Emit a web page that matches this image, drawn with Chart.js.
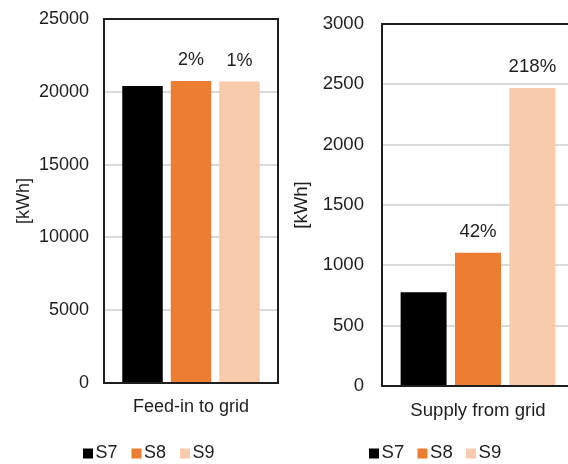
<!DOCTYPE html>
<html>
<head>
<meta charset="utf-8">
<title>Grid energy</title>
<script src="https://cdn.jsdelivr.net/npm/chart.js@4/dist/chart.umd.min.js"></script>
<style>
  html, body { margin: 0; padding: 0; background: #fff; overflow: hidden; }
  #wrap { position: relative; width: 568px; height: 464px; overflow: hidden; }
  canvas { position: absolute; top: 0; }
  #chartFeed { left: 0; }
  #chartSupply { left: 290px; }
</style>
</head>
<body>
<div id="wrap">
  <canvas id="chartFeed" width="290" height="464"></canvas>
  <canvas id="chartSupply" width="292" height="464"></canvas>
</div>
<script>
const series = ["S7", "S8", "S9"];
const colors = ["#000000", "#ED7D31", "#F8CBAD"];

const feedCategory = "Feed-in to grid";
const feedValues = [20400, 20750, 20700];
const feedTicks = [0, 5000, 10000, 15000, 20000, 25000];

const supplyCategory = "Supply from grid";
const supplyValues = [777, 1105, 2470];
const supplyTicks = [0, 500, 1000, 1500, 2000, 2500, 3000];

const yTitle = "[kWh]";
const textColor = "#1e1e1e";
const fontFamily = "'Liberation Sans', Arial, sans-serif";

// box round the plot area, change vs. S7 above the other bars, small legend underneath
const frameAndLabels = {
  id: 'frameAndLabels',
  afterDatasetsDraw(chart, args, opts) {
    const { ctx, chartArea: a } = chart;
    ctx.save();
    ctx.strokeStyle = '#1e1e1e';
    ctx.lineWidth = 2;
    ctx.strokeRect(a.left, a.top, a.right - a.left, a.bottom - a.top);

    const base = chart.data.datasets[0].data[0];
    ctx.fillStyle = textColor;
    ctx.font = `${opts.size}px ${fontFamily}`;
    ctx.textAlign = 'center';
    ctx.textBaseline = 'middle';
    chart.data.datasets.forEach((ds, i) => {
      if (i === 0) return;
      const bar = chart.getDatasetMeta(i).data[0];
      const pct = Math.round((ds.data[0] / base - 1) * 100) + '%';
      ctx.fillText(pct, bar.x, bar.y - 21);
    });
    ctx.restore();
  },
  afterDraw(chart, args, opts) {
    const { ctx } = chart;
    ctx.save();
    ctx.font = `${opts.size}px ${fontFamily}`;
    ctx.textAlign = 'left';
    ctx.textBaseline = 'middle';
    chart.data.datasets.forEach((ds, i) => {
      const bx = opts.x + i * opts.step;
      ctx.fillStyle = ds.backgroundColor;
      ctx.fillRect(bx, opts.y - 4.5, 10, 10);
      ctx.fillStyle = textColor;
      ctx.fillText(ds.label, bx + 12.5, opts.y);
    });
    ctx.restore();
  }
};

function makeChart(id, category, values, ticks, o) {
  const ctx = document.getElementById(id).getContext('2d');
  const font = { family: fontFamily, size: o.fontSize };
  return new Chart(ctx, {
    type: 'bar',
    data: {
      labels: [category],
      datasets: series.map((name, i) => ({
        label: name,
        data: [values[i]],
        backgroundColor: colors[i],
        borderWidth: 0,
        categoryPercentage: o.cat,
        barPercentage: o.bar
      }))
    },
    options: {
      responsive: false,
      animation: false,
      layout: { padding: { left: 0, right: o.padRight, top: o.top, bottom: o.bottom } },
      plugins: {
        tooltip: { enabled: false },
        legend: { display: false },
        frameAndLabels: { x: o.legendX, y: 453, step: o.legendStep, size: o.fontSize }
      },
      scales: {
        x: {
          grid: { display: false, drawTicks: false },
          border: { display: false },
          ticks: { color: textColor, font: font, padding: o.xPad },
          afterFit(scale) { scale.height = o.xHeight; }
        },
        y: {
          min: ticks[0],
          max: ticks[ticks.length - 1],
          afterBuildTicks(scale) { scale.ticks = ticks.map(v => ({ value: v })); },
          grid: { color: '#dadada', lineWidth: 2, drawTicks: false },
          border: { display: false },
          ticks: { color: textColor, font: font, padding: o.yPad, callback: v => String(v) },
          title: {
            display: true, text: yTitle, color: textColor, font: font,
            padding: { top: o.titleTop, bottom: 0 }
          },
          afterFit(scale) {
            scale.width = o.yWidth;
            scale.paddingTop = 11;
            scale.paddingBottom = 11;
          }
        }
      }
    },
    plugins: [frameAndLabels]
  });
}

makeChart('chartFeed', feedCategory, feedValues, feedTicks, {
  fontSize: 18, cat: 0.836, bar: 0.835, padRight: 12, top: 19, bottom: 26,
  xPad: 13, xHeight: 55, yPad: 15, yWidth: 104, titleTop: 13.2,
  legendX: 83, legendStep: 48.5
});

makeChart('chartSupply', supplyCategory, supplyValues, supplyTicks, {
  fontSize: 18.6, cat: 0.85, bar: 0.845, padRight: 8, top: 24, bottom: 26,
  xPad: 13.5, xHeight: 52, yPad: 18, yWidth: 92, titleTop: 0.5,
  legendX: 79, legendStep: 48.5
});
</script>
</body>
</html>
